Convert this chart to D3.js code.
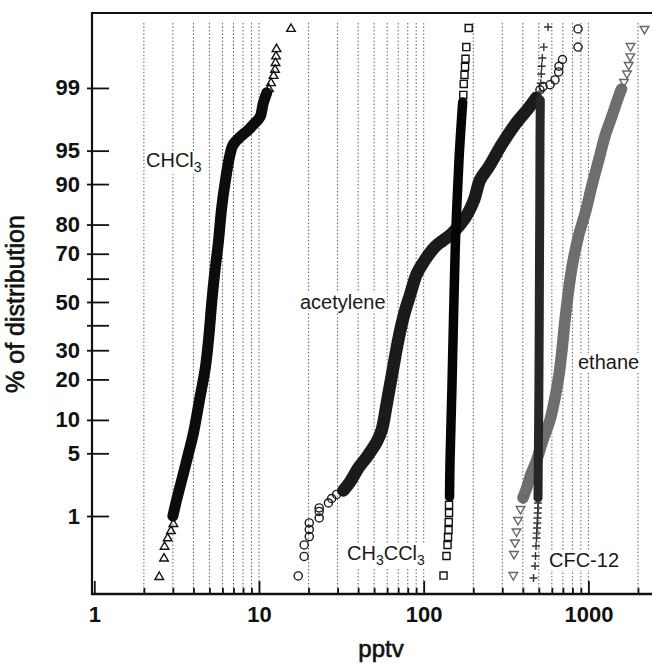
<!DOCTYPE html>
<html><head><meta charset="utf-8">
<script src="https://cdn.jsdelivr.net/npm/d3@7"></script>
<style>
html,body{margin:0;padding:0;background:#fff;}
svg{display:block;}
text{font-family:"Liberation Sans",Arial,Helvetica,sans-serif;}
</style></head><body>
<svg id="chart" width="652" height="666"></svg>
<script>
// ---------------- data (percent of distribution, pptv) ----------------
const yTickPct    = [1, 5, 10, 20, 30, 40, 50, 60, 70, 80, 90, 95, 99];
const yTickLabels = ["1","5","10","20","30","","50","","70","80","90","95","99"];
const xMajorTicks = [1, 10, 100, 1000];
const xMajorLabels = ["1", "10", "100", "1000"];

// CHCl3 (triangles)
const chcl3BandPct  = [1.0, 1.57, 2.46, 4.82, 7.72, 14.3, 24.0, 36.0, 50.9, 63.6, 73.9, 84.9, 90.2, 94.25, 95.6, 96.35, 96.9, 97.35, 97.78, 98.47, 98.85];
const chcl3BandPptv = [3.00, 3.16, 3.36, 3.71, 4.00, 4.35, 4.73, 4.97, 5.18, 5.41, 5.66, 5.94, 6.22, 6.62, 6.95, 7.67, 8.58, 9.32, 10.14, 10.62, 11.14];
const chcl3DotPct   = [0.14, 0.265, 0.39, 0.51, 0.64, 0.79, 98.97, 99.13, 99.30, 99.42, 99.53, 99.62, 99.70, 99.85];
const chcl3DotPptv  = [2.48, 2.65, 2.67, 2.79, 2.92, 3.02, 11.5, 11.83, 12.25, 12.51, 12.6, 12.69, 12.77, 15.64];

// acetylene (circles)
const acetBandPct  = [2.02, 2.52, 3.56, 4.60, 6.40, 8.21, 13.37, 23.98, 33.98, 44.39, 53.03, 61.94, 66.42, 72.51, 77.18, 81.94, 86.63, 90.76, 92.88, 95.70, 97.35, 98.25, 98.67];
const acetBandPptv = [32.5, 35.7, 40.1, 45.1, 51.8, 55.6, 59.6, 65.4, 70.1, 75.9, 82.6, 90.7, 99.0, 117.1, 148.5, 178.2, 202.1, 219.7, 248.1, 298.8, 360.9, 434.0, 480.8];
const acetDotPct   = [0.145, 0.284, 0.413, 0.54, 0.67, 0.815, 0.944, 1.14, 1.26, 1.445, 1.634, 1.82, 2.02, 98.94, 99.04, 99.09, 99.21, 99.38, 99.48, 99.58, 99.72, 99.85];
const acetDotPptv  = [17.3, 18.8, 18.8, 20.2, 20.2, 20.2, 23.2, 23.2, 23.2, 26.4, 27.6, 29.6, 32.5, 508, 530, 585, 627, 660, 663, 696, 865, 865];

// CH3CCl3 (squares)
const mcfBandPct  = [1.70, 4.2, 18.06, 46.5, 76.7, 93.86, 97.48, 98.51];
const mcfBandPptv = [143.5, 144.5, 148.5, 152.1, 156.4, 163.8, 169.2, 172.5];
const mcfDotPct   = [0.147, 0.288, 0.413, 0.532, 0.66, 0.84, 1.09, 1.37, 98.78, 99.11, 99.32, 99.47, 99.59, 99.72, 99.855];
const mcfDotPptv  = [131.9, 137.5, 139.5, 140.5, 141.5, 141.9, 142.5, 142.5, 173.9, 175.0, 176.9, 178.2, 179.4, 181.4, 187.6];

// CFC-12 (plus)
const cfcBandPct  = [1.66, 4.30, 14.34, 38.06, 67.6, 86.63, 96.09, 98.59];
const cfcBandPptv = [494.3, 496.4, 499.9, 502.7, 504.8, 506.9, 508.3, 510.5];
const cfcDotPct   = [0.135, 0.205, 0.288, 0.40, 0.516, 0.60, 0.70, 0.815, 0.944, 1.09, 1.258, 1.445, 98.88, 99.13, 99.34, 99.48, 99.60, 99.72, 99.86];
const cfcDotPptv  = [464.2, 474.1, 477.4, 480.8, 484.1, 485.5, 487.5, 489.5, 490.9, 492.2, 494.3, 494.3, 510.5, 514.0, 517.6, 520.5, 525.0, 536.1, 568.6];

// ethane (down triangles)
const ethBandPct  = [1.66, 2.216, 3.075, 4.10, 6.68, 9.98, 14.85, 21.38, 30.08, 42.23, 53.03, 64.8, 76.33, 83.60, 89.83, 93.86, 96.52, 97.84, 98.71, 98.97];
const ethBandPptv = [400.8, 423.8, 448.2, 480.8, 530.2, 584.6, 626.9, 663.0, 691.4, 721.0, 751.8, 795.2, 870.8, 960.3, 1051.7, 1155, 1266.5, 1391, 1523, 1589];
const ethDotPct   = [0.150, 0.308, 0.447, 0.630, 0.89, 1.222, 1.66, 99.16, 99.35, 99.50, 99.62, 99.73, 99.85];
const ethDotPptv  = [349.9, 353.4, 358.3, 366.0, 373.8, 387.1, 400.8, 1644.7, 1715.5, 1756.7, 1796.3, 1801.4, 2190.5];

// ---------------- helpers ----------------
function probit(p) {
  const a=[-3.969683028665376e+01,2.209460984245205e+02,-2.759285104469687e+02,1.383577518672690e+02,-3.066479806614716e+01,2.506628277459239e+00];
  const b=[-5.447609879822406e+01,1.615858368580409e+02,-1.556989798598866e+02,6.680131188771972e+01,-1.328068155288572e+01];
  const c=[-7.784894002430293e-03,-3.223964580411365e-01,-2.400758277161838e+00,-2.549732539343734e+00,4.374664141464968e+00,2.938163982698783e+00];
  const d=[7.784695709041462e-03,3.224671290700398e-01,2.445134137142996e+00,3.754408661907416e+00];
  const pl=0.02425, ph=1-pl; let q, r;
  if (p < pl) { q=Math.sqrt(-2*Math.log(p)); return (((((c[0]*q+c[1])*q+c[2])*q+c[3])*q+c[4])*q+c[5])/((((d[0]*q+d[1])*q+d[2])*q+d[3])*q+1); }
  if (p <= ph) { q=p-0.5; r=q*q; return (((((a[0]*r+a[1])*r+a[2])*r+a[3])*r+a[4])*r+a[5])*q/(((((b[0]*r+b[1])*r+b[2])*r+b[3])*r+b[4])*r+1); }
  q=Math.sqrt(-2*Math.log(1-p)); return -(((((c[0]*q+c[1])*q+c[2])*q+c[3])*q+c[4])*q+c[5])/((((d[0]*q+d[1])*q+d[2])*q+d[3])*q+1);
}
const zip = (ps, vs) => ps.map((p, i) => ({p: p, v: vs[i]}));

(function draw() {
const svg = d3.select("#chart");
const plotLeft = 92, plotTop = 13, plotBottom = 594, plotRight = 660;
const x = d3.scaleLog().domain([1, 1000]).range([94.3, 588.4]);
const z = d3.scaleLinear().domain([-3.174, 3.141]).range([plotBottom, plotTop]);
const y = p => z(probit(p / 100));

// grid lines
const gridVals = x.copy().domain([1, 2500]).ticks().filter(v => v > 1.001);
svg.append("g").selectAll("line").data(gridVals).join("line")
  .attr("x1", d => x(d)).attr("x2", d => x(d))
  .attr("y1", 23).attr("y2", plotBottom)
  .attr("stroke", "#505050").attr("stroke-width", 0.9)
  .attr("stroke-dasharray", "1.5,2");

// series
const plusType = { draw(ctx, size) { const r = Math.sqrt(size) / 2; ctx.moveTo(-r, 0); ctx.lineTo(r, 0); ctx.moveTo(0, -r); ctx.lineTo(0, r); } };
const series = [
  { band: zip(chcl3BandPct, chcl3BandPptv), dots: zip(chcl3DotPct, chcl3DotPptv), sym: d3.symbolTriangle, size: 32, rot: 0, color: "#0c0c0c", dot: "#111", w: 11 },
  { band: zip(acetBandPct, acetBandPptv), dots: zip(acetDotPct, acetDotPptv), sym: d3.symbolCircle, size: 52, rot: 0, color: "#1b1b1b", dot: "#1b1b1b", w: 12.5 },
  { band: zip(mcfBandPct, mcfBandPptv), dots: zip(mcfDotPct, mcfDotPptv), sym: d3.symbolSquare, size: 50, rot: 0, color: "#050505", dot: "#111", w: 9.5 },
  { band: zip(ethBandPct, ethBandPptv), dots: zip(ethDotPct, ethDotPptv), sym: d3.symbolTriangle, size: 32, rot: 180, color: "#6e6e6e", dot: "#666", w: 11.5 },
  { band: zip(cfcBandPct, cfcBandPptv), dots: zip(cfcDotPct, cfcDotPptv), sym: plusType, size: 64, rot: 0, color: "#262626", dot: "#333", w: 9 }
];
const line = d3.line().x(d => x(d.v)).y(d => y(d.p)).curve(d3.curveCatmullRom.alpha(0.5));
series.forEach(s => {
  const g = svg.append("g");
  g.append("path").datum(s.band).attr("d", line)
    .attr("fill", "none").attr("stroke", s.color).attr("stroke-width", s.w)
    .attr("stroke-linejoin", "round").attr("stroke-linecap", "round");
  g.selectAll("path.m").data(s.dots).join("path").attr("class", "m")
    .attr("d", d3.symbol().type(s.sym).size(s.size))
    .attr("transform", d => `translate(${x(d.v)},${y(d.p)}) rotate(${s.rot})`)
    .attr("fill", "none").attr("stroke", s.dot).attr("stroke-width", 1.4);
});

// axes
const yAxis = d3.axisLeft(z)
  .tickValues(yTickPct.map(p => probit(p / 100)))
  .tickFormat((d, i) => yTickLabels[i])
  .tickSizeInner(-17).tickSizeOuter(0).tickPadding(12);
const gy = svg.append("g").attr("transform", `translate(${plotLeft},0)`).call(yAxis);
gy.select(".domain").remove();
gy.selectAll(".tick line").attr("x1", -5).attr("stroke", "#111").attr("stroke-width", 1.8);
gy.selectAll(".tick text").attr("font-size", 22).attr("font-weight", "bold").attr("fill", "#111")
  .attr("font-family", "'Liberation Sans', Arial, sans-serif");

const xAxis = d3.axisBottom(x)
  .tickValues(gridVals.concat([1]))
  .tickFormat(d => { const i = xMajorTicks.findIndex(m => Math.abs(m - d) < 1e-6); return i >= 0 ? xMajorLabels[i] : ""; })
  .tickSizeInner(-6).tickSizeOuter(0).tickPadding(12);
const gx = svg.append("g").attr("transform", `translate(0,${plotBottom})`).call(xAxis);
gx.select(".domain").remove();
gx.selectAll(".tick line").attr("stroke", "#111").attr("stroke-width", 1.8)
  .attr("y2", d => xMajorTicks.some(m => Math.abs(m - d) < 1e-6) ? -13 : -6);
gx.selectAll(".tick text").attr("font-size", 22).attr("font-weight", "bold").attr("fill", "#111")
  .attr("font-family", "'Liberation Sans', Arial, sans-serif");

// frame
svg.append("line").attr("x1", plotLeft - 1).attr("x2", plotRight).attr("y1", plotTop).attr("y2", plotTop).attr("stroke", "#111").attr("stroke-width", 2);
svg.append("line").attr("x1", plotLeft).attr("x2", plotLeft).attr("y1", plotTop - 1).attr("y2", plotBottom + 1).attr("stroke", "#111").attr("stroke-width", 2.2);
svg.append("line").attr("x1", plotLeft - 1).attr("x2", plotRight).attr("y1", plotBottom).attr("y2", plotBottom).attr("stroke", "#111").attr("stroke-width", 2.4);

// axis titles
svg.append("text").attr("x", 381).attr("y", 657).attr("text-anchor", "middle")
  .attr("font-size", 24).attr("fill", "#111").attr("stroke", "#111").attr("stroke-width", 0.6).text("pptv");
svg.append("text").attr("transform", "translate(24,304) rotate(-90)").attr("text-anchor", "middle")
  .attr("font-size", 25).attr("fill", "#111").attr("stroke", "#111").attr("stroke-width", 0.6).text("% of distribution");

// series labels
const labels = [
  { x: 146, y: 167, parts: [["CHCl", 0], ["3", 1]] },
  { x: 300, y: 308.5, parts: [["acetylene", 0]] },
  { x: 347, y: 560, parts: [["CH", 0], ["3", 1], ["CCl", 0], ["3", 1]] },
  { x: 549, y: 567, parts: [["CFC-12", 0]] },
  { x: 578, y: 369, parts: [["ethane", 0]] }
];
labels.forEach(l => {
  const g = svg.append("g");
  const bg = g.append("rect").attr("fill", "#fff");
  const t = g.append("text").attr("x", l.x).attr("y", l.y).attr("font-size", 20).attr("fill", "#1a1a1a");
  let sub = false;
  l.parts.forEach(([s, isSub]) => {
    const ts = t.append("tspan").text(s);
    if (isSub && !sub) { ts.attr("dy", 5).attr("font-size", 14); sub = true; }
    else if (isSub) { ts.attr("font-size", 14); }
    else if (!isSub && sub) { ts.attr("dy", -5); sub = false; }
  });
  const bb = t.node().getBBox();
  bg.attr("x", bb.x - 1).attr("y", bb.y + 2).attr("width", bb.width + 2).attr("height", bb.height - 3);
});
})();
</script>
</body></html>
